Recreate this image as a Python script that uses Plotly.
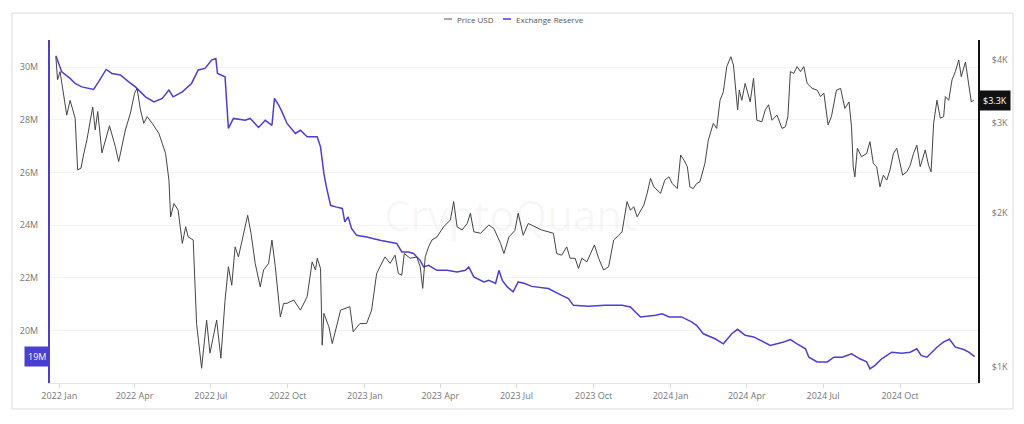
import math
import pandas as pd
import plotly.graph_objects as go

# ---- data (days since 2022-01-01) ----
price_days = [-4,-2,1,9,13,19,22,26,29,33,40,43,46,51,60,67,71,79,85,90,93,97,101,105,111,119,123,127,131,133,137,142,147,151,154,160,164,168,170,176,180,188,193,198,202,206,210,214,225,229,234,240,244,250,254,258,262,264,268,272,280,288,296,302,306,308,312,314,316,322,326,330,336,347,351,359,367,373,379,383,389,395,401,405,409,412,419,427,431,434,437,441,445,451,459,467,471,475,481,487,491,495,503,513,519,527,531,537,544,548,554,560,568,576,590,594,600,606,610,616,620,624,630,634,639,644,650,656,662,668,672,678,682,686,690,698,702,706,710,718,723,728,732,738,742,746,750,753,757,761,765,771,775,781,785,789,793,797,802,805,807,810,812,815,819,825,829,833,839,843,847,851,857,863,867,870,873,877,881,885,889,893,899,905,909,913,918,922,928,933,938,943,946,948,950,953,958,964,968,972,976,980,984,988,992,996,1000,1007,1012,1016,1020,1024,1028,1034,1038,1041,1044,1048,1052,1056,1058,1062,1066,1070,1074,1077,1082,1086,1089,1092]
price_usd = [4045,3648,3786,3112,3327,3069,2432,2451,2600,2781,3229,2911,3163,2625,2966,2700,2524,2911,3140,3436,3510,3187,2999,3091,3000,2866,2740,2618,2322,1968,2090,2028,1746,1882,1798,1773,1217,1080,995,1236,1065,1236,1041,1352,1572,1446,1719,1643,1982,1828,1596,1436,1549,1596,1773,1572,1353,1254,1333,1333,1353,1293,1373,1607,1549,1633,1560,1104,1274,1199,1112,1181,1293,1313,1173,1217,1217,1293,1524,1572,1643,1596,1656,1524,1513,1668,1633,1643,1572,1426,1643,1719,1773,1798,1882,1940,2108,1882,1855,1910,2000,1840,1828,1897,1867,1746,1668,1798,1850,2000,1811,1910,1882,1855,1828,1668,1656,1719,1633,1633,1560,1633,1607,1668,1734,1633,1549,1572,1773,1811,1840,2108,2028,2060,1968,2075,2188,2340,2253,2188,2322,2357,2286,2235,2600,2540,2466,2253,2235,2286,2305,2505,2781,2999,2931,3327,3457,3873,4048,3899,3613,3187,3483,3327,3590,3303,3673,3041,3020,3187,3261,3041,3112,2931,2953,3091,3786,3755,3873,3786,3873,3590,3510,3483,3383,3436,2978,3091,3483,3510,3208,3303,2953,2466,2357,2680,2580,2618,2761,2505,2466,2253,2375,2322,2432,2618,2680,2375,2410,2481,2618,2718,2466,2661,2481,2410,2999,3327,3069,3091,3383,3327,3648,3786,3989,3700,3953,3541,3303,3330]

reserve_days = [-4,-1,3,13,19,27,35,41,47,56,63,73,83,91,103,113,123,131,136,147,158,166,174,182,187,189,198,202,208,222,228,238,246,254,257,262,266,272,282,288,296,308,312,316,319,324,330,338,341,345,349,355,367,383,403,409,417,423,431,435,441,451,463,475,485,489,495,507,513,521,525,529,535,542,548,556,564,584,600,608,614,632,652,672,682,694,712,720,728,743,755,761,769,783,793,803,810,819,829,837,849,865,873,881,891,895,905,917,925,935,946,956,964,968,974,982,994,1006,1016,1024,1029,1036,1042,1048,1056,1063,1070,1080,1086,1093]
reserve_m = [30.43,30.2,29.82,29.57,29.38,29.25,29.19,29.15,29.44,29.91,29.76,29.70,29.44,29.25,28.87,28.68,28.81,29.13,28.87,29.06,29.38,29.89,29.95,30.27,30.33,29.76,29.63,27.67,28.05,27.98,28.05,27.71,27.98,27.79,28.81,28.56,28.30,27.86,27.48,27.60,27.35,27.35,26.97,25.96,25.45,24.75,24.69,24.63,24.12,24.31,23.87,23.61,23.55,23.42,23.30,22.98,22.98,22.92,22.66,22.41,22.47,22.28,22.28,22.22,22.28,22.41,22.03,21.84,21.90,21.78,22.28,21.90,21.65,21.46,21.84,21.78,21.67,21.59,21.33,21.21,20.95,20.92,20.95,20.95,20.89,20.51,20.57,20.63,20.51,20.51,20.32,20.19,19.87,19.68,19.49,19.87,20.04,19.81,19.75,19.62,19.43,19.56,19.65,19.49,19.30,18.98,18.80,18.80,18.98,18.98,19.11,18.92,18.80,18.54,18.67,18.92,19.17,19.13,19.17,19.30,19.05,18.98,19.17,19.36,19.56,19.66,19.36,19.27,19.17,19.00]

x_tick_dates = ["2022-01-01","2022-04-01","2022-07-01","2022-10-01","2023-01-01","2023-04-01",
                "2023-07-01","2023-10-01","2024-01-01","2024-04-01","2024-07-01","2024-10-01"]
x_tick_labels = ["2022 Jan","2022 Apr","2022 Jul","2022 Oct","2023 Jan","2023 Apr",
                 "2023 Jul","2023 Oct","2024 Jan","2024 Apr","2024 Jul","2024 Oct"]
left_ticks = [20, 22, 24, 26, 28, 30]
left_labels = ["20M", "22M", "24M", "26M", "28M", "30M"]
right_ticks = [1000, 2000, 3000, 4000]
right_labels = ["$1K", "$2K", "$3K", "$4K"]
series_names = ["Price USD", "Exchange Reserve"]
last_reserve_label = "19M"
last_price_label = "$3.3K"

base = pd.Timestamp("2022-01-01")
px = [base + pd.Timedelta(days=d) for d in price_days]
rx = [base + pd.Timedelta(days=d) for d in reserve_days]

PURPLE = "#4b3fcf"
GREY_LINE = "#444444"
FONT = "Open Sans"

fig = go.Figure()
fig.add_trace(go.Scatter(x=px, y=price_usd, name=series_names[0], yaxis="y2",
                         mode="lines", line=dict(color=GREY_LINE, width=1)))
fig.add_trace(go.Scatter(x=rx, y=reserve_m, name=series_names[1], yaxis="y",
                         mode="lines", line=dict(color=PURPLE, width=1.5)))

fig.update_layout(
    width=1024, height=424,
    margin=dict(l=50, r=46, t=40, b=41),
    paper_bgcolor="white", plot_bgcolor="white",
    showlegend=False,
    font=dict(family=FONT, size=9, color="#777"),
    xaxis=dict(type="date", range=["2021-12-21", "2025-01-02"],
               tickvals=x_tick_dates, ticktext=x_tick_labels,
               showgrid=False, zeroline=False,
               showline=True, linecolor="#e4e4e4", linewidth=1,
               ticks="outside", ticklen=4, tickcolor="#d8d8d8",
               tickfont=dict(size=9, color="#777")),
    yaxis=dict(range=[18.0, 31.03], tickvals=left_ticks, ticktext=left_labels,
               showgrid=True, gridcolor="#f4f4f4", zeroline=False,
               showline=True, linecolor=PURPLE, linewidth=2,
               ticks="", ticklabelstandoff=8,
               tickfont=dict(size=9, color="#777")),
    yaxis2=dict(type="log", range=[2.969, 3.640], overlaying="y", side="right",
                tickvals=right_ticks, ticktext=right_labels,
                showgrid=False, zeroline=False,
                showline=True, linecolor="#111", linewidth=2,
                ticks="", ticklabelstandoff=10,
                tickfont=dict(size=9, color="#777")),
)

# outer card frame
fig.add_shape(type="rect", xref="paper", yref="paper",
              x0=-0.041, x1=1.0377, y0=-0.0758, y1=1.0787,
              line=dict(color="#dcdcdc", width=1), fillcolor="rgba(0,0,0,0)", layer="below")

# watermark
fig.add_annotation(text="CryptoQuant", xref="paper", yref="paper", x=0.4957, y=0.49,
                   showarrow=False, font=dict(size=42, color="rgba(0,0,0,0.045)", family=FONT))

# custom legend centered on top: short coloured line + label
legend_y = 1.0612
legend_items = [(0.4246, 0.4332, "#8a8a8a", series_names[0]),
                (0.4881, 0.4968, PURPLE, series_names[1])]
for x0, x1, col, name in legend_items:
    fig.add_shape(type="line", xref="paper", yref="paper", x0=x0, x1=x1,
                  y0=legend_y, y1=legend_y, line=dict(color=col, width=1.5))
    fig.add_annotation(text=name, xref="paper", yref="paper", x=x1, y=legend_y,
                       xanchor="left", yanchor="middle", xshift=3, showarrow=False,
                       font=dict(size=8, color="#555", family=FONT))

# last-value markers
fig.add_annotation(text=last_reserve_label, xref="paper", yref="y", x=0, y=reserve_m[-1],
                   xanchor="right", showarrow=False, bgcolor=PURPLE, borderpad=3,
                   font=dict(size=9, color="white", family=FONT))
fig.add_annotation(text=last_price_label, xref="paper", yref="y2", x=1,
                   y=math.log10(price_usd[-1]), xanchor="left", xshift=1,
                   showarrow=False, bgcolor="#111", borderpad=3,
                   font=dict(size=9, color="white", family=FONT))

fig.write_html("out.html")
